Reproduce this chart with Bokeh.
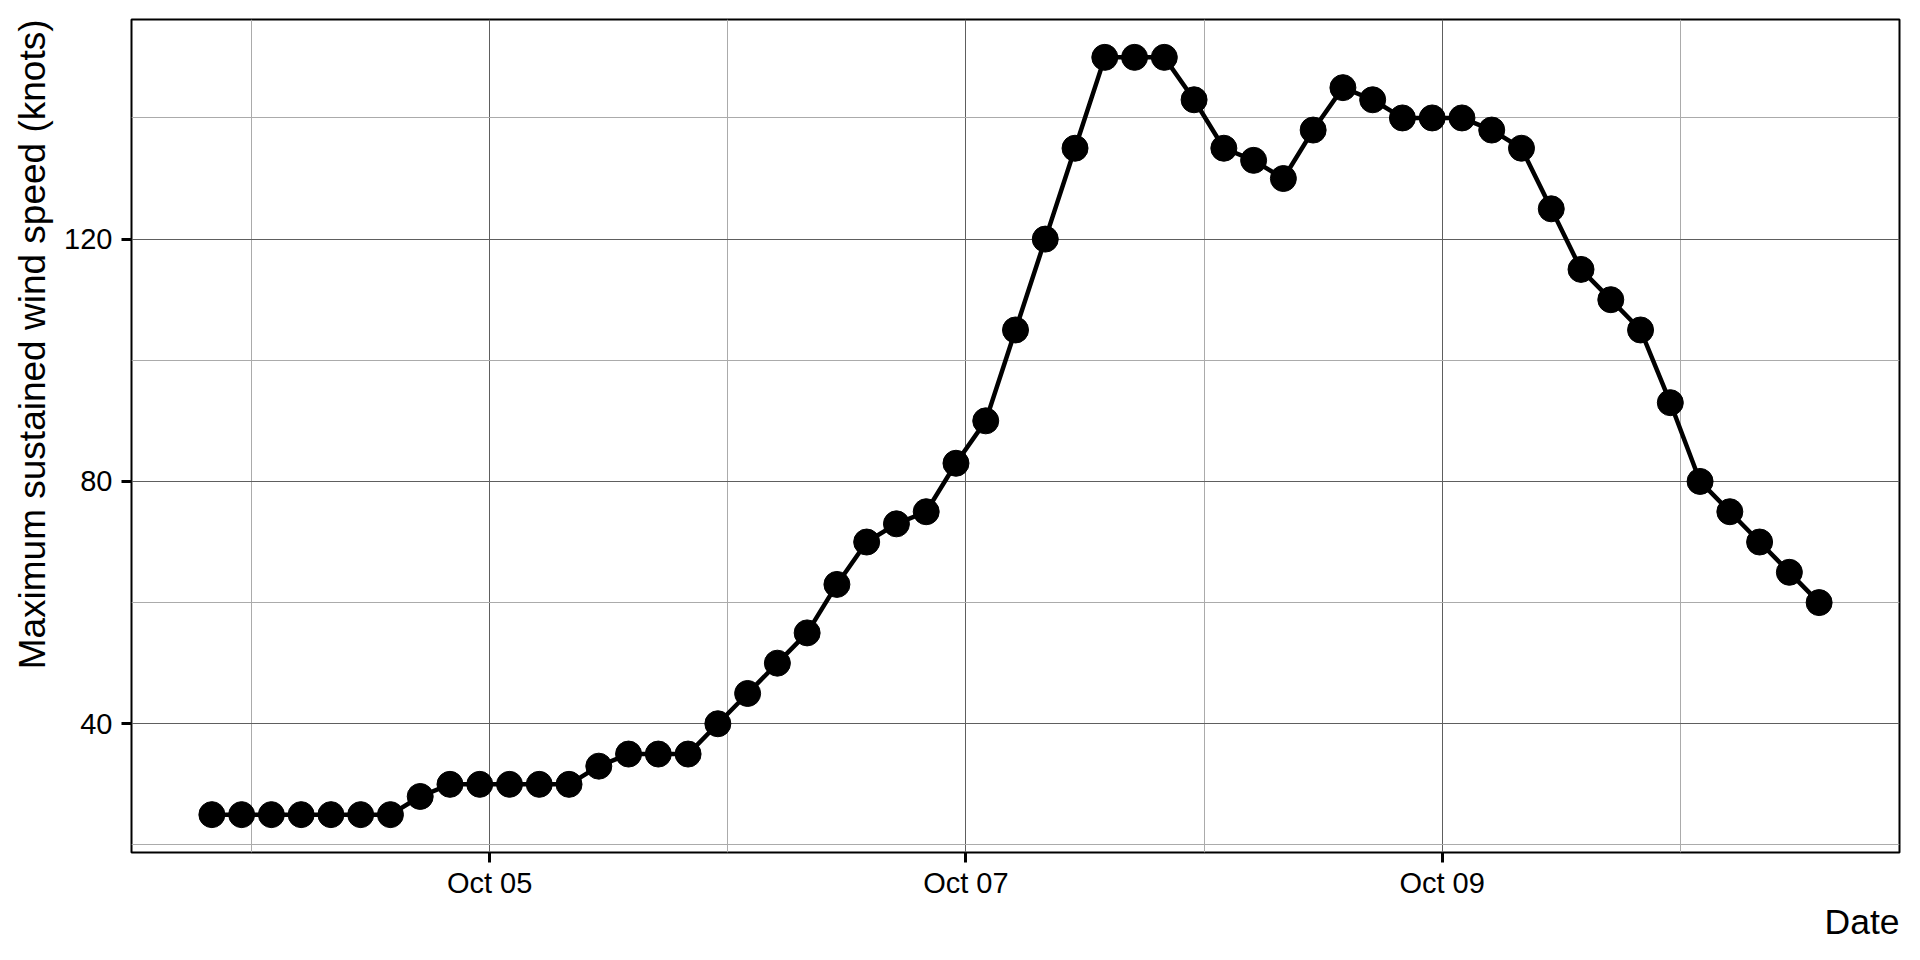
import pandas as pd
from bokeh.plotting import figure
from bokeh.models import FixedTicker, DatetimeTickFormatter, ColumnDataSource, Title
from bokeh.embed import file_html
from bokeh.resources import INLINE

# ---- data ----
times = [
    "2024-10-03 20:00", "2024-10-03 23:00",
    "2024-10-04 02:00", "2024-10-04 05:00", "2024-10-04 08:00", "2024-10-04 11:00",
    "2024-10-04 14:00", "2024-10-04 17:00", "2024-10-04 20:00", "2024-10-04 23:00",
    "2024-10-05 02:00", "2024-10-05 05:00", "2024-10-05 08:00", "2024-10-05 11:00",
    "2024-10-05 14:00", "2024-10-05 17:00", "2024-10-05 20:00", "2024-10-05 23:00",
    "2024-10-06 02:00", "2024-10-06 05:00", "2024-10-06 08:00", "2024-10-06 11:00",
    "2024-10-06 14:00", "2024-10-06 17:00", "2024-10-06 20:00", "2024-10-06 23:00",
    "2024-10-07 02:00", "2024-10-07 05:00", "2024-10-07 08:00", "2024-10-07 11:00",
    "2024-10-07 14:00", "2024-10-07 17:00", "2024-10-07 20:00", "2024-10-07 23:00",
    "2024-10-08 02:00", "2024-10-08 05:00", "2024-10-08 08:00", "2024-10-08 11:00",
    "2024-10-08 14:00", "2024-10-08 17:00", "2024-10-08 20:00", "2024-10-08 23:00",
    "2024-10-09 02:00", "2024-10-09 05:00", "2024-10-09 08:00", "2024-10-09 11:00",
    "2024-10-09 14:00", "2024-10-09 17:00", "2024-10-09 20:00", "2024-10-09 23:00",
    "2024-10-10 02:00", "2024-10-10 05:00", "2024-10-10 08:00", "2024-10-10 11:00",
    "2024-10-10 14:00",
]
wind_knots = [
    25, 25, 25, 25, 25, 25, 25, 28, 30, 30,
    30, 30, 30, 33, 35, 35, 35, 40, 45, 50,
    55, 63, 70, 73, 75, 83, 90, 105, 120, 135,
    150, 150, 150, 143, 135, 133, 130, 138, 145, 143,
    140, 140, 140, 138, 135, 125, 115, 110, 105, 93,
    80, 75, 70, 65, 60,
]
x_major_ticks = ["2024-10-05", "2024-10-07", "2024-10-09"]
x_minor_ticks = ["2024-10-04", "2024-10-06", "2024-10-08", "2024-10-10"]
y_major_ticks = [40, 80, 120]
y_minor_ticks = [20, 60, 100, 140]
x_title = "Date"
y_title = "Maximum sustained wind speed (knots)"

# ---- build ----
t = pd.to_datetime(pd.Series(times))
src = ColumnDataSource(data=dict(t=t, v=wind_knots))

tmin, tmax = t.min(), t.max()
span = tmax - tmin
x0, x1 = tmin - 0.05 * span, tmax + 0.05 * span
vmin, vmax = min(wind_knots), max(wind_knots)
vs = vmax - vmin
y0, y1 = vmin - 0.05 * vs, vmax + 0.05 * vs

FONT = "Liberation Sans"

p = figure(
    width=1904, height=944,
    x_axis_type="datetime",
    x_range=(x0, x1), y_range=(y0, y1),
    output_backend="svg", toolbar_location=None,
    min_border_left=130, min_border_right=5,
    min_border_top=19, min_border_bottom=92,
)
p.background_fill_color = "white"
p.border_fill_color = "white"
p.outline_line_color = "black"
p.outline_line_width = 2

def ms(s):
    return pd.Timestamp(s).value / 1e6

p.xaxis.ticker = FixedTicker(ticks=[ms(s) for s in x_major_ticks],
                             minor_ticks=[ms(s) for s in x_minor_ticks])
p.xaxis.formatter = DatetimeTickFormatter(days="%b %d", months="%b %d", hours="%b %d",
                                          years="%b %d")
p.yaxis.ticker = FixedTicker(ticks=y_major_ticks, minor_ticks=y_minor_ticks)

for ax in (p.xaxis, p.yaxis):
    ax.axis_line_color = None
    ax.major_tick_out = 10
    ax.major_tick_in = 0
    ax.major_tick_line_width = 3
    ax.major_tick_line_color = "black"
    ax.minor_tick_out = 0
    ax.minor_tick_in = 0
    ax.major_label_text_font = FONT
    ax.major_label_text_font_size = "29px"
    ax.major_label_text_color = "black"

p.xaxis.major_label_standoff = 4
p.yaxis.major_label_standoff = 9

p.xgrid.grid_line_color = "#5e5e5e"
p.ygrid.grid_line_color = "#5e5e5e"
p.xgrid.grid_line_width = 1
p.ygrid.grid_line_width = 1
p.xgrid.minor_grid_line_color = "#ababab"
p.ygrid.minor_grid_line_color = "#ababab"
p.xgrid.minor_grid_line_width = 1
p.ygrid.minor_grid_line_width = 1

p.line("t", "v", source=src, line_color="black", line_width=4.5)
p.scatter("t", "v", source=src, size=26, fill_color="black", line_color="black")

# axis titles, aligned to the far ends of the axes
p.add_layout(Title(text=x_title, align="right", vertical_align="top", standoff=0, offset=0,
                   text_font=FONT, text_font_size="35.5px", text_font_style="normal",
                   text_color="black", text_line_height=0.9), "below")
p.add_layout(Title(text=y_title, align="right", standoff=18, offset=0,
                   text_font=FONT, text_font_size="37px", text_font_style="normal",
                   text_color="black"), "left")

open("out.html", "w").write(file_html(p, INLINE))
